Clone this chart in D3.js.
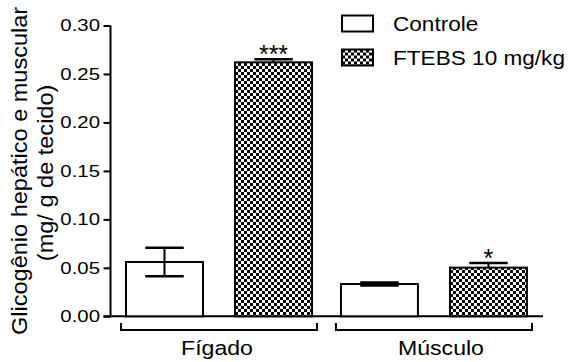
<!DOCTYPE html>
<html>
<head>
<meta charset="utf-8">
<script src="https://cdn.jsdelivr.net/npm/d3@7"></script>
<style>
  body { margin: 0; background: #fff; }
  svg { display: block; font-family: "Liberation Sans", Arial, sans-serif; }
</style>
</head>
<body>
<svg id="chart" width="571" height="362"></svg>
<script>
// Data
var groups = ["Fígado", "Músculo"];
var series = ["Controle", "FTEBS 10 mg/kg"];
var means = [[0.056, 0.262], [0.0333, 0.0502]];
var sems = [[0.0148, 0.0031], [0.0015, 0.0049]];
var marks = [["", "***"], ["", "*"]];
var yTicks = [0.00, 0.05, 0.10, 0.15, 0.20, 0.25, 0.30];

var svg = d3.select("#chart");

// Checkerboard pattern
var pat = svg.append("defs").append("pattern")
    .attr("id", "checker")
    .attr("patternUnits", "userSpaceOnUse")
    .attr("width", 6).attr("height", 6);
pat.append("rect").attr("width", 6).attr("height", 6).attr("fill", "#fff");
pat.append("rect").attr("width", 3).attr("height", 3).attr("fill", "#000");
pat.append("rect").attr("x", 3).attr("y", 3).attr("width", 3).attr("height", 3).attr("fill", "#000");

var fills = ["#fff", "url(#checker)"];

// Scales
var y = d3.scaleLinear().domain([0, 0.30]).range([316.3, 25.5]);
var x0 = d3.scaleBand().domain(groups).range([121, 532]).paddingInner(0.088);
var x1 = d3.scaleBand().domain(series).range([5, 191]).paddingInner(0.294);

// Y axis
var yAxis = svg.append("g")
    .attr("transform", "translate(110.5,0)")
    .call(d3.axisLeft(y).tickValues(yTicks).tickFormat(d3.format(".2f"))
        .tickSize(7).tickSizeOuter(0).tickPadding(3));
yAxis.selectAll("path, line").attr("stroke", "#000").attr("stroke-width", 2);
yAxis.selectAll("text")
    .attr("font-size", 17)
    .attr("fill", "#000")
    .attr("x", -10.5 / 1.2)
    .attr("transform", "scale(1.2,1)");
yAxis.select(".domain").attr("d", "M0," + y(0.30) + "V" + y(0));

// X baseline
svg.append("line")
    .attr("x1", 103.5).attr("x2", 543)
    .attr("y1", y(0)).attr("y2", y(0))
    .attr("stroke", "#000").attr("stroke-width", 2);

// Bars
var rows = [];
groups.forEach(function (g, i) {
    series.forEach(function (s, j) {
        rows.push({ g: g, s: s, j: j, v: means[i][j], e: sems[i][j], m: marks[i][j] });
    });
});

var bars = svg.append("g").selectAll("g.bar")
    .data(rows)
    .enter()
    .append("g")
    .classed("bar", true)
    .attr("transform", function (d) { return "translate(" + x0(d.g) + ",0)"; });

bars.append("rect")
    .attr("x", function (d) { return x1(d.s); })
    .attr("y", function (d) { return y(d.v); })
    .attr("width", x1.bandwidth())
    .attr("height", function (d) { return y(0) - y(d.v); })
    .attr("fill", function (d) { return fills[d.j]; })
    .attr("stroke", "#000")
    .attr("stroke-width", 2);

// Error bars
var cx = function (d) { return x1(d.s) + x1.bandwidth() / 2; };
var capW = x1.bandwidth() / 4;
bars.append("line")
    .attr("x1", cx).attr("x2", cx)
    .attr("y1", function (d) { return y(d.v + d.e); })
    .attr("y2", function (d) { return y(d.j === 0 ? d.v - d.e : d.v); })
    .attr("stroke", "#000").attr("stroke-width", 2);
bars.append("line")
    .attr("x1", function (d) { return cx(d) - capW; })
    .attr("x2", function (d) { return cx(d) + capW; })
    .attr("y1", function (d) { return y(d.v + d.e); })
    .attr("y2", function (d) { return y(d.v + d.e); })
    .attr("stroke", "#000").attr("stroke-width", 2.5);
bars.filter(function (d) { return d.j === 0; }).append("line")
    .attr("x1", function (d) { return cx(d) - capW; })
    .attr("x2", function (d) { return cx(d) + capW; })
    .attr("y1", function (d) { return y(d.v - d.e); })
    .attr("y2", function (d) { return y(d.v - d.e); })
    .attr("stroke", "#000").attr("stroke-width", 2.5);

// Significance marks
bars.append("text")
    .attr("x", cx)
    .attr("y", function (d) { return y(d.v + d.e) + 4; })
    .attr("text-anchor", "middle")
    .attr("font-size", 25)
    .text(function (d) { return d.m; });

// Group brackets
var brackets = svg.append("g").selectAll("g.bracket")
    .data(groups)
    .enter()
    .append("g")
    .classed("bracket", true);
brackets.append("path")
    .attr("d", function (d) {
        var a = x0(d), b = x0(d) + x0.bandwidth();
        return "M" + a + ",323V330H" + b + "V323";
    })
    .attr("fill", "none").attr("stroke", "#000").attr("stroke-width", 2);
brackets.append("text")
    .attr("transform", function (d, i) {
        return "translate(" + (x0(d) + x0.bandwidth() / 2 + (i === 0 ? -2 : 7)) + ",355) scale(1.1,1)";
    })
    .attr("text-anchor", "middle")
    .attr("font-size", 21)
    .text(function (d) { return d; });

// Y label
var ylab = svg.append("g")
    .attr("transform", "translate(0," + ((y(0) + y(0.30)) / 2) + ")");
ylab.append("text")
    .attr("transform", "translate(27,0) rotate(-90) scale(1.07,1)")
    .attr("text-anchor", "middle")
    .attr("font-size", 22)
    .text("Glicogênio hepático e muscular");
ylab.append("text")
    .attr("transform", "translate(53,2) rotate(-90) scale(1.07,1)")
    .attr("text-anchor", "middle")
    .attr("font-size", 22)
    .text("(mg/ g de tecido)");

// Legend
var legend = svg.append("g").selectAll("g.item")
    .data(series)
    .enter()
    .append("g")
    .classed("item", true)
    .attr("transform", function (d, i) { return "translate(342," + (15.5 + i * 34) + ")"; });
legend.append("rect")
    .attr("width", 31).attr("height", 16)
    .attr("fill", function (d, i) { return fills[i]; })
    .attr("stroke", "#000").attr("stroke-width", 2);
legend.append("text")
    .attr("transform", "translate(51,15) scale(1.13,1)")
    .attr("font-size", 20)
    .text(function (d) { return d; });
</script>
</body>
</html>
